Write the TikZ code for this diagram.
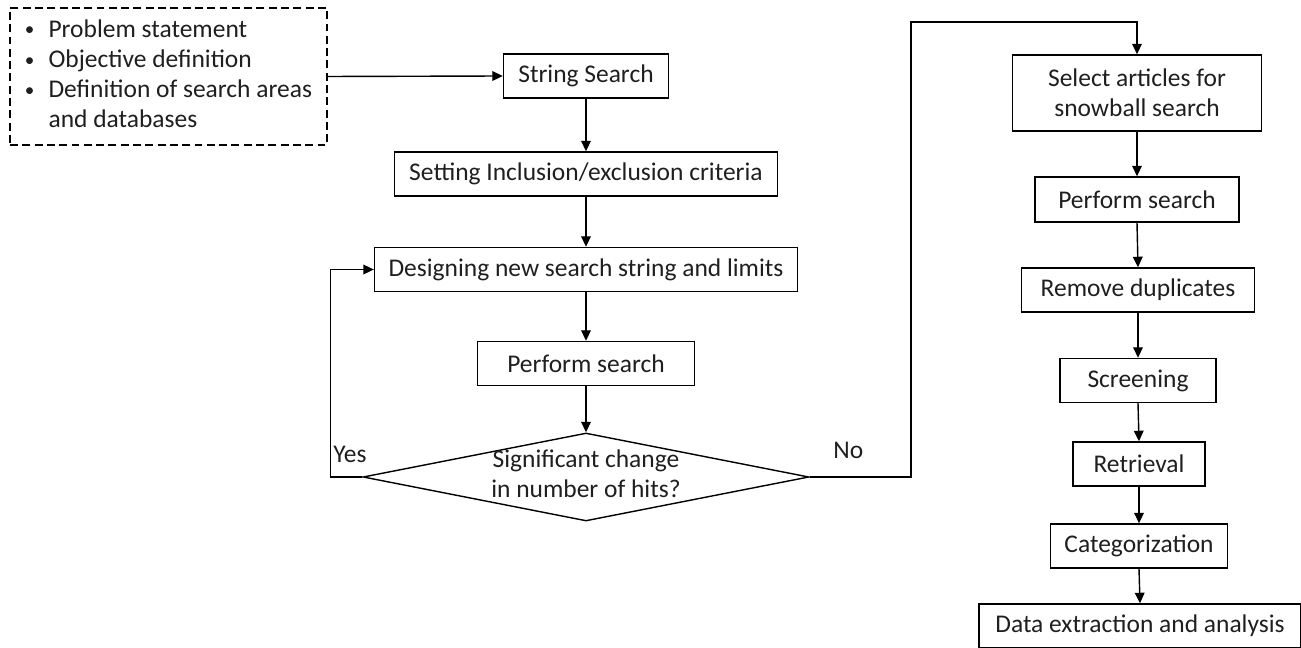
\documentclass[tikz,border=0pt]{standalone}
\usepackage{fontspec}
\usepackage{graphicx}
\setmainfont{Carlito}
\usetikzlibrary{arrows.meta,shapes.geometric}
\newcommand{\flowfont}{\fontsize{14.5}{17.2}\selectfont}
\newcommand{\smallbullet}{\raisebox{0.8pt}{\scalebox{0.75}{\textbullet}}}

\begin{document}
\begin{tikzpicture}[x=0.02cm, y=-0.02cm, font=\flowfont, text=black!88,
  stepbox/.style={rectangle, draw, line width=0.8pt, align=center, minimum height=0.88cm, inner sep=2pt},
  flow/.style={-{Triangle[length=6pt,width=5.5pt]}, line width=0.8pt}]
  \useasboundingbox (0,0) rectangle (1301,648);

  % scoping notes
  \node[draw, dash pattern=on 4.5pt off 2.5pt, line width=0.8pt, minimum width=6.34cm, minimum height=2.74cm, inner sep=0pt] (notes) at (168.5,76.5)
    {\begin{tabular}{@{}l@{\hspace{8pt}}l@{}}
      \smallbullet & Problem statement\\
      \smallbullet & Objective definition\\
      \smallbullet & Definition of search areas\\
                   & and databases
    \end{tabular}};

  % string search loop
  \node[stepbox, minimum width=3.3cm] (string) at (586,76) {String Search};
  \node[stepbox, minimum width=7.66cm] (setting) at (586,174) {Setting Inclusion/exclusion criteria};
  \node[stepbox, minimum width=8.46cm] (design) at (586,269.5) {Designing new search string and limits};
  \node[stepbox, minimum width=4.34cm] (perf1) at (586,363.5) {Perform search};
  \node[draw, diamond, aspect=5.07, minimum width=8.92cm, minimum height=1.76cm, inner sep=0pt, line width=0.8pt] (hits) at (586,477)
    {\raisebox{-3.5pt}[0pt][0pt]{\begin{tabular}{@{}c@{}}Significant change\\in number of hits?\end{tabular}}};

  % snowball search
  \node[stepbox, minimum width=4.98cm, minimum height=1.52cm] (select) at (1137,93) {Select articles for\\snowball search};
  \node[stepbox, minimum width=4.08cm, minimum height=0.9cm] (perf2) at (1137,199.5) {Perform search};
  \node[stepbox, minimum width=4.66cm] (dup) at (1138,290) {Remove duplicates};
  \node[stepbox, minimum width=3.12cm] (screen) at (1138,380.5) {Screening};
  \node[stepbox, minimum width=2.64cm] (retr) at (1139,464) {Retrieval};
  \node[stepbox, minimum width=3.54cm] (categ) at (1139,546) {Categorization};
  \node[stepbox, minimum width=6.44cm] (data) at (1140,626) {Data extraction and analysis};

  % decision labels
  \node[anchor=base west, inner sep=0pt] (yes) at (333,462) {Yes};
  \node[anchor=base west, inner sep=0pt] (no) at (833,458) {No};
  \coordinate (nocorner) at (911,22);

  % connectors
  \draw[flow] (notes.east) -- (string.west);
  \foreach \a/\b in {string/setting, setting/design, design/perf1, perf1/hits}
    \draw[flow] (\a.south) -- (\b.north);
  \draw[flow] (hits.west) -- ++(-32,0) |- (design.west);
  \draw[flow] (hits.east) -| (nocorner) -| (select.north);
  \foreach \a/\b in {select/perf2, perf2/dup, dup/screen, screen/retr, retr/categ, categ/data}
    \draw[flow] (\a.south) -- (\b.north);
\end{tikzpicture}
\end{document}
